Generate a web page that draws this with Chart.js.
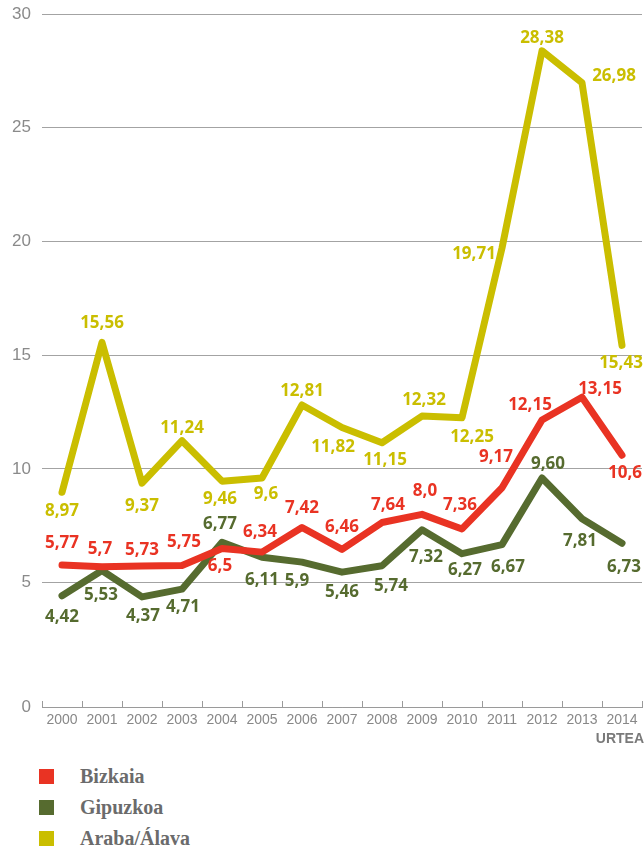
<!DOCTYPE html>
<html>
<head>
<meta charset="utf-8">
<script src="https://cdn.jsdelivr.net/npm/chart.js@4"></script>
<style>
  html, body { margin: 0; padding: 0; background: #fff; }
  #wrap { position: relative; width: 644px; height: 849px; overflow: hidden; }
  #c { position: absolute; left: 0; top: 0; }
  .leg { position: absolute; left: 39px; height: 15px; display: flex; align-items: center; }
  .leg .sw { width: 15px; height: 15px; }
  .leg .tx { position: absolute; left: 41px; top: -4px; font: bold 20px "Liberation Serif", serif; color: #6b6b6b; white-space: nowrap; line-height: 22px; }
</style>
</head>
<body>
<div id="wrap">
  <canvas id="c" width="644" height="750"></canvas>
</div>
<script>
// ---- data ----
const years = ['2000','2001','2002','2003','2004','2005','2006','2007','2008','2009','2010','2011','2012','2013','2014'];
const seriesNames = ['Bizkaia', 'Gipuzkoa', 'Araba/Álava'];
const bizkaia  = [5.77, 5.7, 5.73, 5.75, 6.5, 6.34, 7.42, 6.46, 7.64, 8.0, 7.36, 9.17, 12.15, 13.15, 10.6];
const gipuzkoa = [4.42, 5.53, 4.37, 4.71, 6.77, 6.11, 5.9, 5.46, 5.74, 7.32, 6.27, 6.67, 9.60, 7.81, 6.73];
const araba    = [8.97, 15.56, 9.37, 11.24, 9.46, 9.6, 12.81, 11.82, 11.15, 12.32, 12.25, 19.71, 28.38, 26.98, 15.43];
const bizkaiaText  = ['5,77','5,7','5,73','5,75','6,5','6,34','7,42','6,46','7,64','8,0','7,36','9,17','12,15','13,15','10,6'];
const gipuzkoaText = ['4,42','5,53','4,37','4,71','6,77','6,11','5,9','5,46','5,74','7,32','6,27','6,67','9,60','7,81','6,73'];
const arabaText    = ['8,97','15,56','9,37','11,24','9,46','9,6','12,81','11,82','11,15','12,32','12,25','19,71','28,38','26,98','15,43'];
const yTickLabels = ['0','5','10','15','20','25','30'];
const xAxisTitle = 'URTEA';

// ---- styles / layout ----
const colors = ['#e93323', '#566b2f', '#cabe00'];
const Y_MIN = -0.47, Y_MAX = 30;
// per-point label offsets (px from the point)
const bizkaiaDx = [0,-2,0,2,-2,-2,0,0,6,3,-2,-6,-12,18,3];
const bizkaiaDy = [-22,-18,-16,-23,18,-20,-19,-22,-17,-23,-24,-31,-15,-8,18];
const gipuzkoaDx = [0,-1,1,1,-2,0,-5,0,9,4,3,6,6,-2,2];
const gipuzkoaDy = [21,25,19,18,-18,23,19,20,20,27,16,23,-14,22,24];
const arabaDx = [0,0,0,0,-2,4,0,-9,3,2,10,-28,0,32,-1];
const arabaDy = [19,-19,23,-13,18,16,-14,20,17,-16,19,6,-13,-7,18];

const seriesValues = [bizkaia, gipuzkoa, araba];
const seriesText = [bizkaiaText, gipuzkoaText, arabaText];
const seriesDx = [bizkaiaDx, gipuzkoaDx, arabaDx];
const seriesDy = [bizkaiaDy, gipuzkoaDy, arabaDy];

Chart.defaults.font.family = '"Liberation Sans", Arial, sans-serif';

const tickMarks = {
  id: 'tickMarks',
  afterDraw(chart) {
    const { ctx, chartArea } = chart;
    const n = years.length;
    const w = (chartArea.right - chartArea.left) / n;
    ctx.save();
    ctx.strokeStyle = '#9a9a9a';
    ctx.lineWidth = 1;
    for (let i = 0; i <= n; i++) {
      const x = Math.round(chartArea.left + i * w) + 0.5;
      ctx.beginPath();
      ctx.moveTo(x, chartArea.bottom);
      ctx.lineTo(x, chartArea.bottom - 6);
      ctx.stroke();
    }
    ctx.font = 'bold 14px "Liberation Sans", Arial, sans-serif';
    ctx.fillStyle = '#7a7a7a';
    ctx.textAlign = 'right';
    ctx.textBaseline = 'middle';
    ctx.fillText(xAxisTitle, 644, 739);
    ctx.restore();
  }
};

const valueLabels = {
  id: 'valueLabels',
  afterDatasetsDraw(chart) {
    const { ctx } = chart;
    ctx.save();
    ctx.font = 'bold 17px "Noto Sans", sans-serif';
    ctx.textAlign = 'center';
    ctx.textBaseline = 'middle';
    chart.data.datasets.forEach((ds, di) => {
      const meta = chart.getDatasetMeta(di);
      ctx.fillStyle = colors[di];
      meta.data.forEach((pt, i) => {
        ctx.fillText(seriesText[di][i], pt.x + seriesDx[di][i], pt.y + seriesDy[di][i]);
      });
    });
    ctx.restore();
  }
};

new Chart(document.getElementById('c'), {
  type: 'line',
  data: {
    labels: years,
    datasets: seriesNames.map((name, i) => ({
      label: name,
      data: seriesValues[i],
      borderColor: colors[i],
      backgroundColor: colors[i],
      borderWidth: 7,
      pointRadius: 0,
      tension: 0,
      borderCapStyle: 'round',
      borderJoinStyle: 'round',
      fill: false
    }))
  },
  options: {
    responsive: false,
    animation: false,
    devicePixelRatio: 1,
    layout: { padding: { top: 14, right: 2, left: 0, bottom: 0 } },
    plugins: { legend: { display: false }, tooltip: { enabled: false } },
    scales: {
      x: {
        type: 'category',
        offset: true,
        grid: { display: false, drawTicks: false },
        border: { display: true, color: '#9a9a9a', width: 1 },
        ticks: { color: '#888', font: { size: 14 }, padding: 5, maxRotation: 0, autoSkip: false },
        afterFit(scale) { scale.height = 43; scale.paddingLeft = 0; scale.paddingRight = 0; }
      },
      y: {
        min: Y_MIN,
        max: Y_MAX,
        grid: { color: '#a3a3a3', lineWidth: 1, drawTicks: false },
        border: { display: false },
        afterBuildTicks(scale) {
          scale.ticks = yTickLabels.map((t, i) => ({ value: i === 0 ? Y_MIN : Number(t) }));
        },
        ticks: {
          color: '#8a8a8a',
          font: { size: 17 },
          padding: 11,
          callback: (v, i) => yTickLabels[i]
        },
        afterFit(scale) { scale.width = 42; scale.paddingTop = 0; scale.paddingBottom = 0; }
      }
    }
  },
  plugins: [tickMarks, valueLabels]
});

// legend
const wrap = document.getElementById('wrap');
const legTops = [769, 800, 831];
seriesNames.forEach((name, i) => {
  const d = document.createElement('div');
  d.className = 'leg';
  d.style.top = legTops[i] + 'px';
  d.innerHTML = '<div class="sw" style="background:' + colors[i] + '"></div><div class="tx">' + name + '</div>';
  wrap.appendChild(d);
});
</script>
</body>
</html>
